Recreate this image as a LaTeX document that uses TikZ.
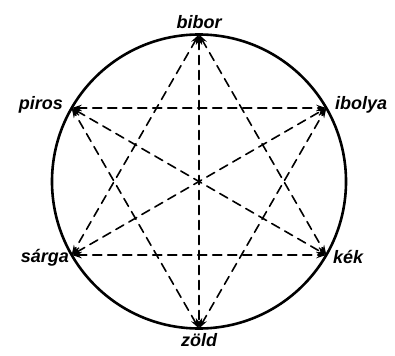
\documentclass[tikz,border=0pt]{standalone}
\usepackage{fontspec}
\setmainfont{Liberation Sans}
\usetikzlibrary{arrows.meta}

\begin{document}
\begin{tikzpicture}[x=1pt, y=-1pt, line cap=round, line join=round,
    link/.style={line width=1.6pt, dash pattern=on 9pt off 6pt, {Stealth[length=10pt,width=6.5pt]}-{Stealth[length=10pt,width=6.5pt]}},
    colour/.style={inner sep=1pt, font=\fontsize{18}{21}\selectfont\bfseries\itshape}]

  %% ════ kör ════
  \draw[line width=2.6pt] (199.0,181.5) circle (147.0);

  %% ════ csúcsok ════
  \coordinate (bibor)  at (199.0,34.5);
  \coordinate (ibolya) at (326.3,108.0);
  \coordinate (kek)    at (326.3,255.0);
  \coordinate (zold)   at (199.0,328.5);
  \coordinate (sarga)  at (71.7,255.0);
  \coordinate (piros)  at (71.7,108.0);

  %% ════ szaggatott nyilak ════
  \draw[link] (piros) -- (ibolya);
  \draw[link] (sarga) -- (kek);
  \draw[link] (bibor) -- (zold);
  \draw[link] (piros) -- (kek);
  \draw[link] (sarga) -- (ibolya);
  \draw[link] (bibor) -- (sarga);
  \draw[link] (bibor) -- (kek);
  \draw[link] (zold) -- (piros);
  \draw[link] (zold) -- (ibolya);

  %% ════ feliratok ════
  \node[colour, anchor=south]      (tbibor)  at (199.0,30.0)  {bibor};
  \node[colour, anchor=north]      (tzold)   at (199.0,332.0) {zöld};
  \node[colour, anchor=east]       (tpiros)  at (64.0,105.0)  {piros};
  \node[colour, anchor=west]       (tibolya) at (334.0,105.0) {ibolya};
  \node[colour, anchor=east]       (tsarga)  at (70.0,258.0)  {sárga};
  \node[colour, anchor=west]       (tkek)    at (332.0,257.0) {kék};

  % vászon rögzítése
  \pgfresetboundingbox
  \path[use as bounding box] (0,0) rectangle (395,355);
\end{tikzpicture}
\end{document}
